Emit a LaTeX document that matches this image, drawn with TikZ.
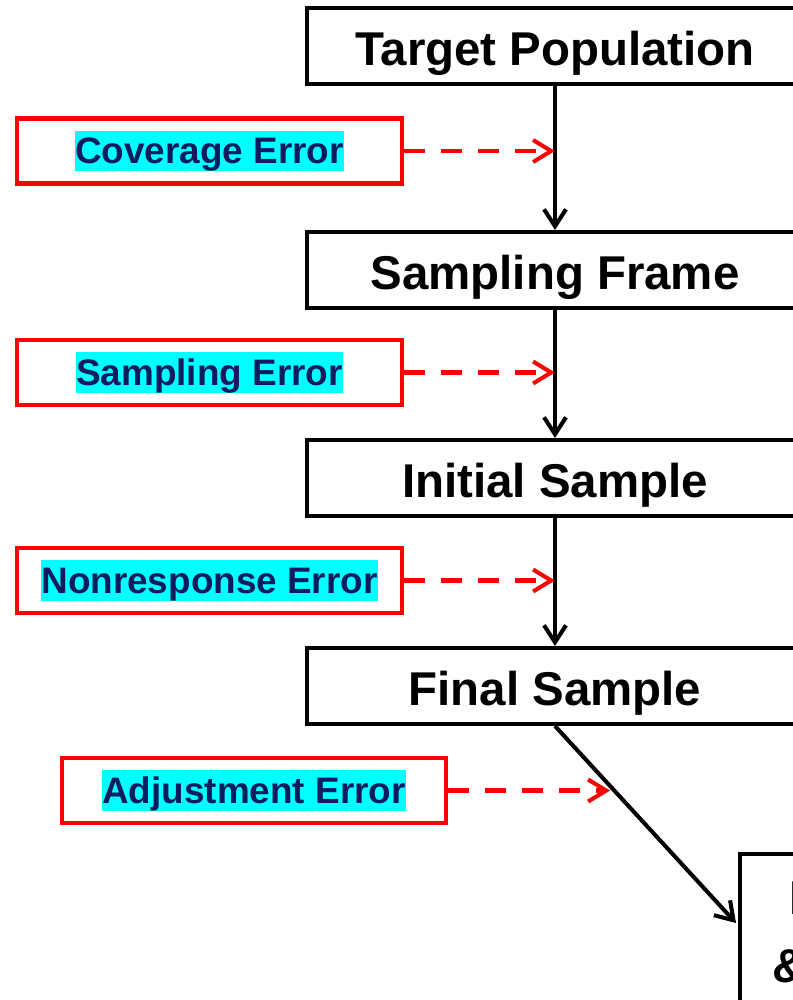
\documentclass[tikz,border=0pt]{standalone}
\usepackage{fontspec}
\setmainfont{Liberation Sans}
\usetikzlibrary{arrows.meta}
\definecolor{errnavy}{HTML}{0F1B5F}
\definecolor{errcyan}{RGB}{0,255,255}
\newcommand{\errhl}[1]{{\setlength{\fboxsep}{0pt}\colorbox{errcyan}{\rule[-0.21em]{0pt}{1.1em}#1}}}
\tikzset{
  stagebox/.style={draw, line width=2.3pt, minimum width=9.92cm, minimum height=1.52cm,
    inner sep=0pt, text height=28pt, text depth=5.4pt, font=\fontsize{27}{39}\selectfont\bfseries},
  errbox/.style={draw=red, line width=2.3pt, minimum width=7.7cm, minimum height=1.3cm,
    inner sep=0pt, text=errnavy, font=\fontsize{21}{25}\selectfont\bfseries},
  flow/.style={-{Straight Barb[length=0.34cm,width=0.44cm]}, line width=2.3pt},
  errflow/.style={-{Straight Barb[length=0.36cm,width=0.44cm]}, line width=2.3pt, red,
    dash pattern=on 0.42cm off 0.32cm},
}
\begin{document}
\begin{tikzpicture}[x=0.02cm, y=-0.02cm]
  % 画面范围
  \path[use as bounding box, clip] (0,0) rectangle (793,1000);
  % 各阶段
  \node[stagebox] (tp) at (555,46) {Target Population};
  \node[stagebox] (sf) at (555,270) {Sampling Frame};
  \node[stagebox] (is) at (555,478) {Initial Sample};
  \node[stagebox] (fs) at (555,686) {Final Sample};
  \node[stagebox, anchor=north west, minimum width=6.48cm, minimum height=0pt,
    text height=, text depth=, inner ysep=0.52cm, align=center] (est) at (738,852) {Estimates\\\& Inference};
  % 误差来源
  \node[errbox] (cov) at (209.5,151) {\errhl{Coverage Error}};
  \node[errbox] (smp) at (209.5,372.5) {\errhl{Sampling Error}};
  \node[errbox] (nrs) at (209.5,580.5) {\errhl{Nonresponse Error}};
  \node[errbox] (adj) at (254,790.5) {\errhl{Adjustment Error}};
  % 主流程
  \draw[flow] (tp) -- (sf);
  \draw[flow] (sf) -- (is);
  \draw[flow] (is) -- (fs);
  \coordinate (esthit) at (736,923);
  \draw[flow] (fs.south) -- (esthit);
  % 误差箭头
  \draw[errflow] (cov) -- (cov -| tp);
  \draw[errflow] (smp) -- (smp -| sf);
  \draw[errflow] (nrs) -- (nrs -| is);
  \coordinate (adjhit) at (610,790.5);
  \draw[errflow] (adj) -- (adjhit);
\end{tikzpicture}
\end{document}
